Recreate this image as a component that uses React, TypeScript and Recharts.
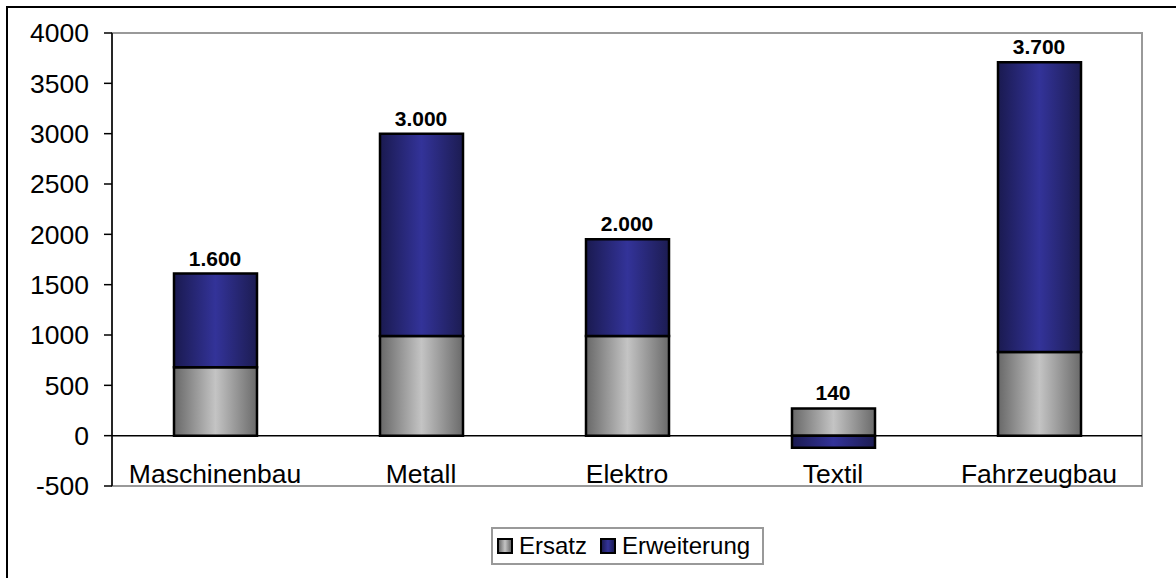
import React from 'react';
import { ComposedChart, Bar, Line, XAxis, YAxis, Legend, LabelList, ReferenceArea, ReferenceLine } from 'recharts';

const categories = ['Maschinenbau', 'Metall', 'Elektro', 'Textil', 'Fahrzeugbau'];
const ersatz = [680, 990, 990, 270, 830];
const erweiterung = [930, 2010, 960, -120, 2880];
const totals = [1600, 3000, 2000, 140, 3700];
const yTicks = [-500, 0, 500, 1000, 1500, 2000, 2500, 3000, 3500, 4000];

const data = categories.map((name, i) => ({
  name,
  ersatz: ersatz[i],
  erweiterung: erweiterung[i],
  // top of the positive part of the stack, where the total label sits
  stackTop: ersatz[i] + Math.max(0, erweiterung[i]),
  total: totals[i],
}));

const FONT = 'Arial, "Liberation Sans", sans-serif';

// 1600 -> "1.600"
const formatDe = (v: number) => String(v).replace(/\B(?=(\d{3})+(?!\d))/g, '.');

const CategoryTick = ({ x, y, payload }: any) => (
  <text x={x} y={y - 3} textAnchor="middle" fontSize={26.5} fontFamily={FONT} fill="#000">
    {payload.value}
  </text>
);

const legendItems = [
  { name: 'Ersatz', bg: 'linear-gradient(to right, #6a6a6a, #c4c4c4, #6a6a6a)' },
  { name: 'Erweiterung', bg: 'linear-gradient(to right, #1c1c55, #333399, #1c1c55)' },
];

const LegendBox = () => (
  <div
    style={{
      boxSizing: 'border-box',
      width: '100%',
      height: '100%',
      border: '2px solid #999',
      background: '#fff',
      display: 'flex',
      alignItems: 'center',
      paddingLeft: 4,
      fontFamily: FONT,
      fontSize: 24,
      color: '#000',
      whiteSpace: 'nowrap',
    }}
  >
    {legendItems.map((item, i) => (
      <div key={item.name} style={{ display: 'flex', alignItems: 'center', marginRight: i === 0 ? 13 : 0 }}>
        <span
          style={{
            display: 'inline-block',
            boxSizing: 'border-box',
            width: 16,
            height: 16,
            border: '2px solid #000',
            background: item.bg,
            marginRight: 6,
          }}
        />
        <span>{item.name}</span>
      </div>
    ))}
  </div>
);

const App: React.FC = () => {
  return (
    <div style={{ position: 'absolute', left: 0, top: 0, width: 1176, height: 578, overflow: 'hidden', background: '#fff' }}>
      <div
        style={{
          position: 'absolute',
          left: 6,
          top: 6,
          width: 1200,
          height: 600,
          borderTop: '2px solid #000',
          borderLeft: '2px solid #000',
        }}
      />
      <div style={{ position: 'absolute', left: 0, top: 0 }}>
        <ComposedChart
          width={1176}
          height={578}
          data={data}
          stackOffset="sign"
          margin={{ top: 33, right: 34, left: 12, bottom: 62 }}
        >
          <defs>
            <linearGradient id="gradErsatz" x1="0" y1="0" x2="1" y2="0">
              <stop offset="0%" stopColor="#686868" />
              <stop offset="50%" stopColor="#c4c4c4" />
              <stop offset="100%" stopColor="#6a6a6a" />
            </linearGradient>
            <linearGradient id="gradErweiterung" x1="0" y1="0" x2="1" y2="0">
              <stop offset="0%" stopColor="#1a1a50" />
              <stop offset="50%" stopColor="#333399" />
              <stop offset="100%" stopColor="#1c1c52" />
            </linearGradient>
          </defs>
          <ReferenceArea y1={-500} y2={4000} fill="none" stroke="#999" strokeWidth={2} />
          <ReferenceLine y={0} stroke="#000" strokeWidth={1.5} />
          <XAxis
            dataKey="name"
            height={30}
            axisLine={false}
            tickLine={false}
            tickSize={0}
            tickMargin={0}
            tick={<CategoryTick />}
            interval={0}
          />
          <YAxis
            width={100}
            domain={[-500, 4000]}
            ticks={yTicks}
            interval={0}
            axisLine={{ stroke: '#000', strokeWidth: 1.5 }}
            tickLine={{ stroke: '#000', strokeWidth: 1.5 }}
            tickSize={8}
            tickMargin={15}
            tick={{ fontSize: 26.5, fontFamily: FONT, fill: '#000' }}
          />
          <Legend
            layout="horizontal"
            verticalAlign="middle"
            align="center"
            wrapperStyle={{ top: 527, left: 491, width: 273, height: 38 }}
            content={<LegendBox />}
          />
          <Bar dataKey="ersatz" name="Ersatz" stackId="a" barSize={83} fill="url(#gradErsatz)" stroke="#000" strokeWidth={2.5} isAnimationActive={false} />
          <Bar dataKey="erweiterung" name="Erweiterung" stackId="a" barSize={83} fill="url(#gradErweiterung)" stroke="#000" strokeWidth={2.5} isAnimationActive={false} />
          <Line
            dataKey="stackTop"
            stroke="none"
            dot={false}
            activeDot={false}
            legendType="none"
            isAnimationActive={false}
          >
            <LabelList
              dataKey="total"
              position="top"
              offset={8}
              formatter={(v: any) => formatDe(Number(v))}
              style={{ fontSize: 21, fontWeight: 'bold', fontFamily: FONT, fill: '#000' }}
            />
          </Line>
        </ComposedChart>
      </div>
    </div>
  );
};

export default App;
